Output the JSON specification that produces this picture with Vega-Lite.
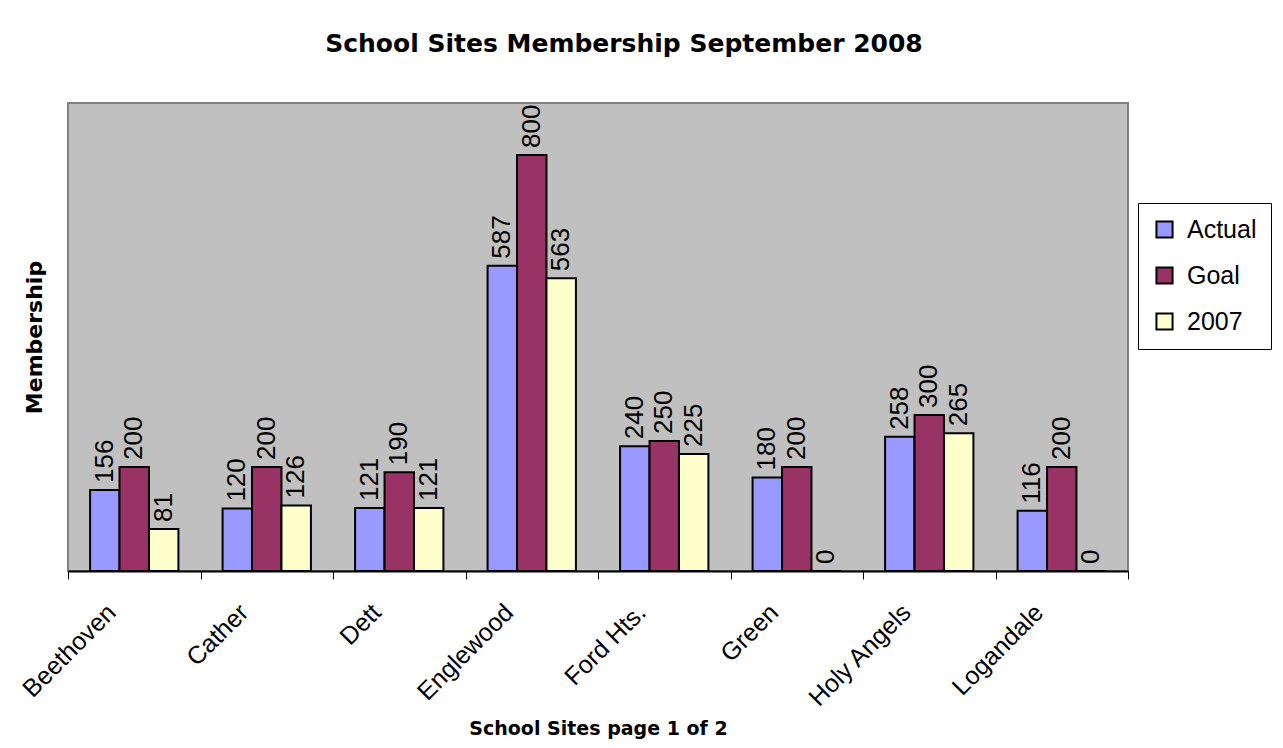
{
  "$schema": "https://vega.github.io/schema/vega-lite/v6.json",
  "width": 1060,
  "height": 468,
  "autosize": {"type": "none"},
  "padding": {"left": 68, "top": 103, "right": 155, "bottom": 177},
  "background": "white",
  "title": {"text": "School Sites Membership September 2008", "fontSize": 25, "font": "DejaVu Sans", "fontWeight": "bold", "offset": 46, "dx": 26, "color": "black"},
  "data": {"values": [
    {"site": "Beethoven", "series": "Actual", "value": 156},
    {"site": "Beethoven", "series": "Goal", "value": 200},
    {"site": "Beethoven", "series": "2007", "value": 81},
    {"site": "Cather", "series": "Actual", "value": 120},
    {"site": "Cather", "series": "Goal", "value": 200},
    {"site": "Cather", "series": "2007", "value": 126},
    {"site": "Dett", "series": "Actual", "value": 121},
    {"site": "Dett", "series": "Goal", "value": 190},
    {"site": "Dett", "series": "2007", "value": 121},
    {"site": "Englewood", "series": "Actual", "value": 587},
    {"site": "Englewood", "series": "Goal", "value": 800},
    {"site": "Englewood", "series": "2007", "value": 563},
    {"site": "Ford Hts.", "series": "Actual", "value": 240},
    {"site": "Ford Hts.", "series": "Goal", "value": 250},
    {"site": "Ford Hts.", "series": "2007", "value": 225},
    {"site": "Green", "series": "Actual", "value": 180},
    {"site": "Green", "series": "Goal", "value": 200},
    {"site": "Green", "series": "2007", "value": 0},
    {"site": "Holy Angels", "series": "Actual", "value": 258},
    {"site": "Holy Angels", "series": "Goal", "value": 300},
    {"site": "Holy Angels", "series": "2007", "value": 265},
    {"site": "Logandale", "series": "Actual", "value": 116},
    {"site": "Logandale", "series": "Goal", "value": 200},
    {"site": "Logandale", "series": "2007", "value": 0}
  ]},
  "encoding": {
    "x": {
      "field": "site", "type": "nominal", "sort": null,
      "scale": {"paddingInner": 0, "paddingOuter": 0},
      "axis": {
        "title": "School Sites page 1 of 2",
        "labelAngle": -45, "labelAlign": "right", "labelBaseline": "middle",
        "labelFontSize": 25, "labelFont": "Liberation Sans", "labelColor": "black",
        "labelPadding": 29, "labelOffset": -23,
        "tickBand": "extent", "tickColor": "black", "tickSize": 8, "tickWidth": 1,
        "domainColor": "black", "domainWidth": 2,
        "titleFontSize": 19, "titleFont": "DejaVu Sans", "titleFontWeight": "bold", "titleColor": "black",
        "titleY": 163, "titleBaseline": "alphabetic",
        "grid": false
      }
    },
    "xOffset": {"field": "series", "type": "nominal", "sort": ["Actual", "Goal", "2007"], "scale": {"paddingInner": 0, "paddingOuter": 0.75}},
    "y": {
      "field": "value", "type": "quantitative",
      "scale": {"domain": [0, 900], "nice": false},
      "axis": {"title": "Membership", "labels": false, "ticks": false, "grid": false, "domain": false,
        "titleFontSize": 22, "titleFont": "DejaVu Sans", "titleFontWeight": "bold", "titlePadding": 22, "titleColor": "black"}
    }
  },
  "layer": [
    {
      "mark": {"type": "bar", "stroke": "black", "strokeWidth": 2},
      "encoding": {
        "color": {
          "field": "series", "type": "nominal",
          "scale": {"domain": ["Actual", "Goal", "2007"], "range": ["#9999FF", "#993366", "#FFFFCC"]},
          "legend": {
            "orient": "none", "legendX": 1070, "legendY": 100, "title": null,
            "labelFontSize": 25, "labelFont": "Liberation Sans", "labelColor": "black", "labelOffset": 10,
            "symbolType": "square", "symbolSize": 260, "symbolStrokeColor": "black", "symbolStrokeWidth": 2, "symbolOpacity": 1,
            "strokeColor": "black", "fillColor": "white", "padding": 14, "rowPadding": 20
          }
        }
      }
    },
    {
      "mark": {"type": "text", "angle": 270, "align": "left", "baseline": "middle", "dx": 7, "fontSize": 26, "font": "Liberation Sans", "color": "black"},
      "encoding": {"text": {"field": "value", "type": "quantitative"}}
    }
  ],
  "config": {"view": {"fill": "#C0C0C0", "stroke": "#808080", "strokeWidth": 2}}
}
